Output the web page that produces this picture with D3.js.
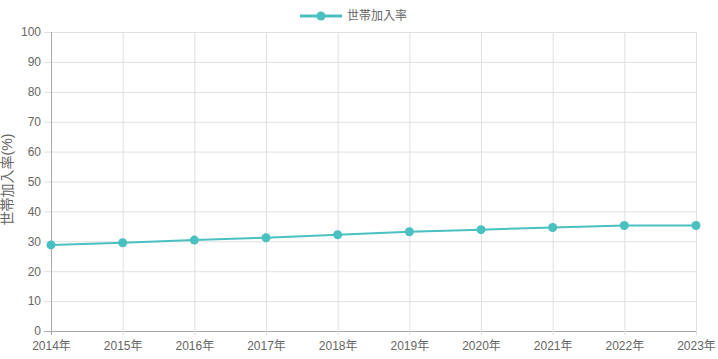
<!DOCTYPE html>
<html lang="ja">
<head>
<meta charset="UTF-8">
<script src="https://d3js.org/d3.v7.min.js"></script>
<style>
  body { margin: 0; background: #fff; }
  #plot { width: 718px; height: 359px; }
  text { font-family: "Liberation Sans", Arial, "Noto Sans CJK JP", sans-serif; }
</style>
</head>
<body>
<div id="plot"></div>
<script>
const years = ["2014年", "2015年", "2016年", "2017年", "2018年", "2019年", "2020年", "2021年", "2022年", "2023年"];
const rates = [28.8, 29.5, 30.4, 31.2, 32.2, 33.2, 33.9, 34.6, 35.3, 35.3];
const yTicks = [0, 10, 20, 30, 40, 50, 60, 70, 80, 90, 100];
const seriesName = "世帯加入率";
const axisTitle = "世帯加入率(%)";

const color = "rgb(75,192,192)";
const margin = {top: 32, right: 22, bottom: 28, left: 51};
const width = 718, height = 359;
const w = width - margin.left - margin.right;
const h = height - margin.top - margin.bottom;

const svg = d3.select("#plot").append("svg")
    .attr("width", width)
    .attr("height", height);

const g = svg.append("g")
    .attr("transform", `translate(${margin.left}, ${margin.top})`);

const x = d3.scalePoint().domain(years).range([0, w]);
const y = d3.scaleLinear().domain([0, 100]).range([h, 0]);

// grid
g.append("g")
    .selectAll("line")
    .data(yTicks)
    .join("line")
      .attr("x1", -7).attr("x2", w)
      .attr("y1", d => y(d) + 0.5).attr("y2", d => y(d) + 0.5)
      .attr("stroke", d => d === 0 ? "#aaa" : "#e0e0e0");

g.append("g")
    .selectAll("line")
    .data(years)
    .join("line")
      .attr("x1", d => x(d) + 0.5).attr("x2", d => x(d) + 0.5)
      .attr("y1", 0).attr("y2", h + 4)
      .attr("stroke", (d, i) => i === 0 ? "#aaa" : "#e0e0e0");

// axes labels
const yAxis = d3.axisLeft(y).tickValues(yTicks).tickSize(0).tickPadding(10);
g.append("g")
    .call(yAxis)
    .call(a => a.select(".domain").remove())
    .call(a => a.selectAll("text").attr("fill", "#666").style("font-size", "12px"));

const xAxis = d3.axisBottom(x).tickSize(0).tickPadding(10);
g.append("g")
    .attr("transform", `translate(0, ${h})`)
    .call(xAxis)
    .call(a => a.select(".domain").remove())
    .call(a => a.selectAll("text").attr("fill", "#666").style("font-size", "12px"));

svg.append("text")
    .attr("transform", `translate(12, ${margin.top + h / 2 - 2}) rotate(-90)`)
    .attr("text-anchor", "middle")
    .attr("fill", "#666")
    .style("font-size", "14px")
    .text(axisTitle);

// line
const line = d3.line()
    .x((d, i) => x(years[i]))
    .y(d => y(d));

g.append("path")
    .datum(rates)
    .attr("fill", "none")
    .attr("stroke", color)
    .attr("stroke-width", 2)
    .attr("d", line);

g.append("g")
    .selectAll("circle")
    .data(rates)
    .join("circle")
      .attr("cx", (d, i) => x(years[i]))
      .attr("cy", d => y(d))
      .attr("r", 4.5)
      .attr("fill", color);

// legend
const lg = svg.append("g").attr("transform", "translate(300, 16)");
lg.append("line")
    .attr("x1", 0).attr("x2", 42)
    .attr("stroke", color).attr("stroke-width", 3);
lg.append("circle")
    .attr("cx", 21).attr("r", 4.5)
    .attr("fill", color);
lg.append("text")
    .attr("x", 47).attr("dy", "0.35em")
    .attr("fill", "#666")
    .style("font-size", "12px")
    .text(seriesName);
</script>
</body>
</html>
